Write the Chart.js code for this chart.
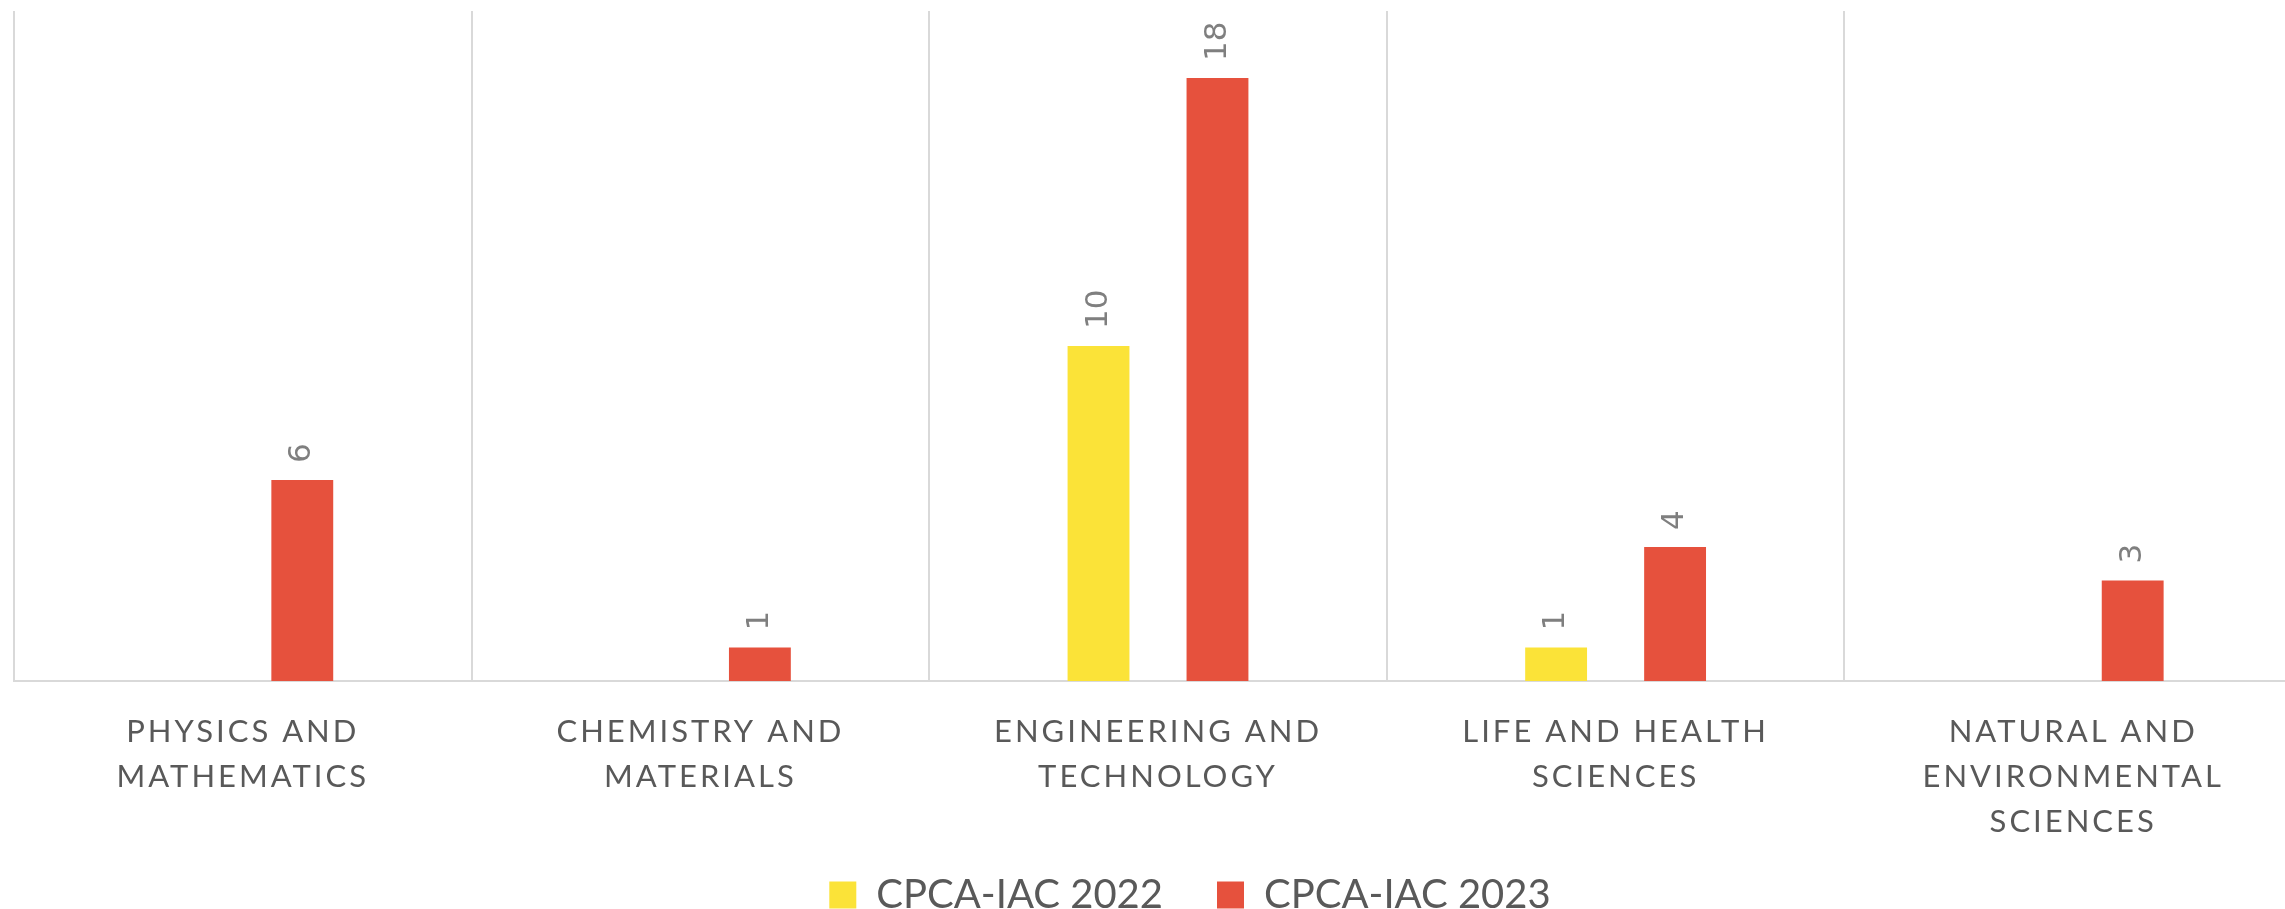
<!DOCTYPE html>
<html>
<head>
<meta charset="utf-8">
<script src="https://cdn.jsdelivr.net/npm/chart.js@4.4.1/dist/chart.umd.min.js"></script>
<style>
    html, body {
        margin: 0;
        padding: 0;
        overflow: hidden;
        background: #fff;
    }
    .chart-container {
        position: relative;
        width: 2366px;
        height: 909px;
    }
</style>
</head>
<body>
<div class="chart-container">
    <canvas id="myChart"></canvas>
</div>
<script>
const categories = [
    ['PHYSICS AND', 'MATHEMATICS'],
    ['CHEMISTRY AND', 'MATERIALS'],
    ['ENGINEERING AND', 'TECHNOLOGY'],
    ['LIFE AND HEALTH', 'SCIENCES'],
    ['NATURAL AND', 'ENVIRONMENTAL', 'SCIENCES']
]
const seriesNames = ['CPCA-IAC 2022', 'CPCA-IAC 2023']
// empty cells are null so no bar and no label gets drawn
const values2022 = [null, null, 10, 1, null]
const values2023 = [6, 1, 18, 4, 3]
const colorHex = ['#fbe338', '#e6513d']

const gridColor = '#d9d9d9'
const labelColor = '#595959'

// rotated value labels above each bar, plus letter spacing for the category names
const barLabels = {
    id: 'barLabels',
    afterLayout(chart) {
        // let the 3-line category name run past the axis box (labels are clipped to it)
        chart.scales.x.bottom = chart.height
    },
    beforeDraw(chart) {
        chart.ctx.letterSpacing = '0px'
    },
    afterDatasetsDraw(chart) {
        const ctx = chart.ctx
        chart.data.datasets.forEach((ds, i) => {
            const meta = chart.getDatasetMeta(i)
            meta.data.forEach((bar, j) => {
                const v = ds.data[j]
                if (v === null || v === undefined) return
                ctx.save()
                ctx.translate(bar.x, bar.y - 17)
                ctx.rotate(-Math.PI / 2)
                ctx.font = '31px "DejaVu Sans"'
                ctx.fillStyle = '#7f7f7f'
                ctx.textAlign = 'left'
                ctx.textBaseline = 'middle'
                ctx.fillText(String(v), 0, 0)
                ctx.restore()
            })
        })
        // x ticks are drawn after this (z: 1)
        ctx.letterSpacing = '3px'
    },
    afterDraw(chart) {
        chart.ctx.letterSpacing = '0px'
    }
}

const ctx = document.getElementById('myChart').getContext('2d')

const myChart = new Chart(ctx, {
    type: 'bar',
    data: {
        labels: categories,
        datasets: [{
            label: seriesNames[0],
            data: values2022,
            backgroundColor: colorHex[0]
        }, {
            label: seriesNames[1],
            data: values2023,
            backgroundColor: colorHex[1]
        }]
    },
    plugins: [barLabels],
    options: {
        responsive: true,
        maintainAspectRatio: false,
        animation: false,
        devicePixelRatio: 1,
        categoryPercentage: 0.52,
        barPercentage: 0.52,
        layout: {
            padding: { left: 14, top: 11, right: 0, bottom: -16 }
        },
        scales: {
            x: {
                grid: {
                    display: true,
                    offset: true,
                    color: gridColor,
                    lineWidth: 2,
                    drawTicks: false
                },
                border: {
                    display: true,
                    color: gridColor,
                    width: 2
                },
                ticks: {
                    z: 1,
                    padding: 29,
                    color: labelColor,
                    maxRotation: 0,
                    autoSkip: false,
                    font: { family: 'Lato', size: 31, lineHeight: 1.45 }
                },
                afterFit: (scale) => {
                    scale.height = 140
                }
            },
            y: {
                position: 'right',
                min: 0,
                max: 20,
                grid: { display: false },
                border: { display: false },
                ticks: { display: false },
                afterFit: (scale) => {
                    scale.width = 64
                }
            }
        },
        plugins: {
            legend: {
                position: 'bottom',
                labels: {
                    boxWidth: 27,
                    boxHeight: 27,
                    padding: 54,
                    color: labelColor,
                    font: { family: 'Lato', size: 40 }
                }
            },
            tooltip: { enabled: false }
        }
    }
})
</script>
</body>
</html>
